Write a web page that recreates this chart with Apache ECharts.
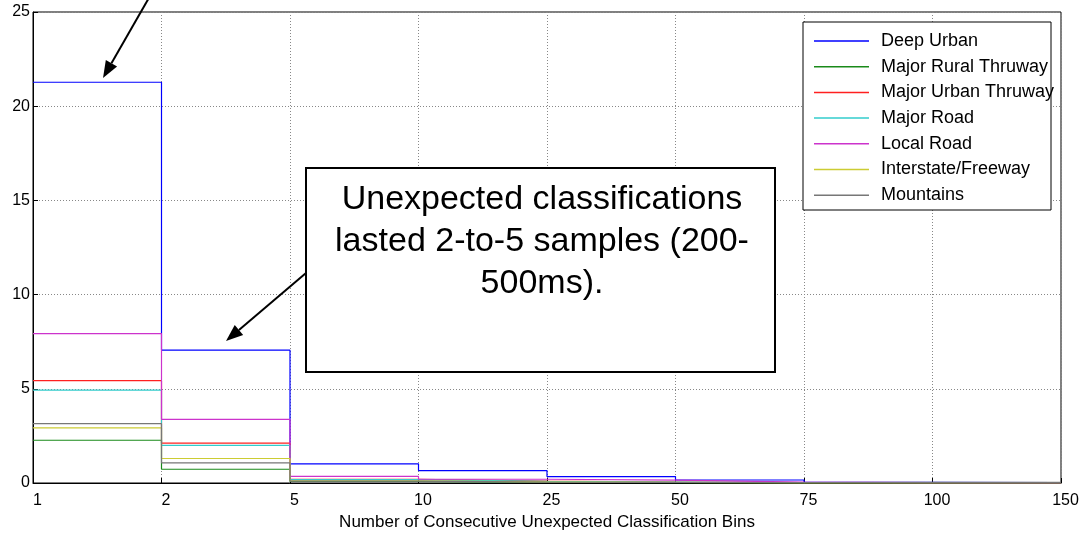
<!DOCTYPE html>
<html lang="en">
<head>
    <meta charset="UTF-8">
    <title>Unexpected Classification Bins</title>
    <script src='https://cdn.jsdelivr.net/npm/echarts@6/dist/echarts.min.js'></script>
    <style>
        html, body { margin: 0; padding: 0; background: #fff; }
    </style>
</head>
<body>
<div id="chart" style="width: 1083px;height: 533px"></div>
<script>
    // bin edges shown as tick labels
    const binTicks = ['1', '2', '5', '10', '25', '50', '75', '100', '150'];
    // one value per bin (1-2, 2-5, 5-10, 10-25, 25-50, 50-75, 75-100, 100-150)
    const deepUrban = [21.27, 7.05, 1.02, 0.66, 0.34, 0.16, 0.03, 0.02];
    const majorRuralThruway = [2.27, 0.73, 0.08, 0.04, 0.02, 0.01, 0.01, 0.01];
    const majorUrbanThruway = [5.43, 2.12, 0.2, 0.1, 0.05, 0.02, 0.01, 0.01];
    const majorRoad = [4.93, 2.0, 0.18, 0.09, 0.05, 0.02, 0.01, 0.01];
    const localRoad = [7.93, 3.38, 0.35, 0.2, 0.15, 0.05, 0.02, 0.01];
    const interstateFreeway = [2.93, 1.3, 0.12, 0.06, 0.03, 0.01, 0.01, 0.01];
    const mountains = [3.15, 1.07, 0.1, 0.05, 0.03, 0.02, 0.03, 0.03];

    const seriesNames = ['Deep Urban', 'Major Rural Thruway', 'Major Urban Thruway', 'Major Road',
        'Local Road', 'Interstate/Freeway', 'Mountains'];
    const seriesValues = [deepUrban, majorRuralThruway, majorUrbanThruway, majorRoad,
        localRoad, interstateFreeway, mountains];
    const colors = ['#0000ff', '#1a8a1a', '#ff2020', '#33cccc', '#cc33cc', '#cccc33', '#777777'];

    const font = '"Liberation Sans", Arial, sans-serif';

    // each bin becomes a flat step from its left edge to its right edge
    function toSteps(vals) {
        let pts = vals.map(function (v, i) { return [i, v]; });
        pts.push([vals.length, vals[vals.length - 1]]);
        return pts;
    }

    function arrow(x1, y1, x2, y2) {
        let dx = x2 - x1, dy = y2 - y1;
        let len = Math.sqrt(dx * dx + dy * dy);
        let ux = dx / len, uy = dy / len;
        let hl = 17, hw = 6.5;
        let bx = x2 - ux * hl, by = y2 - uy * hl;
        return [{
            type: 'line', z: 20,
            shape: {x1: x1, y1: y1, x2: bx, y2: by},
            style: {stroke: '#000', lineWidth: 2}
        }, {
            type: 'polygon', z: 20,
            shape: {points: [[x2, y2], [bx - uy * hw, by + ux * hw], [bx + uy * hw, by - ux * hw]]},
            style: {fill: '#000'}
        }];
    }

    let chart = echarts.init(document.getElementById('chart'));
    let option = {
        animation: false,
        color: colors,
        grid: {
            left: 33, right: 22, top: 12, bottom: 50,
            containLabel: false,
            outerBoundsMode: 'none',
            show: true, borderColor: '#000', borderWidth: 1
        },
        legend: {
            orient: 'vertical',
            left: 803, top: 22,
            padding: [8, 4, 2, 11],
            itemGap: 3.7,
            itemWidth: 55,
            itemHeight: 1.5,
            icon: 'rect',
            textStyle: {
                fontFamily: font, fontSize: 18, color: '#000',
                lineHeight: 22, padding: [0, 0, 0, 7]
            },
            data: seriesNames
        },
        xAxis: {
            type: 'value',
            min: 0, max: 8, interval: 1,
            name: 'Number of Consecutive Unexpected Classification Bins',
            nameLocation: 'middle',
            nameGap: 30,
            nameTextStyle: {fontFamily: font, fontSize: 17, color: '#000'},
            axisLine: {lineStyle: {color: '#000'}},
            axisTick: {inside: true, length: 5, lineStyle: {color: '#000'}},
            axisLabel: {
                fontFamily: font, fontSize: 16, color: '#000', margin: 10,
                padding: [0, 0, 0, 9],
                formatter: function (v) { return binTicks[v]; }
            },
            splitLine: {show: true, lineStyle: {color: '#888', type: [1, 2]}}
        },
        yAxis: {
            type: 'value',
            min: 0, max: 25, interval: 5,
            axisLine: {show: true, lineStyle: {color: '#000'}},
            axisTick: {show: true, inside: true, length: 5, lineStyle: {color: '#000'}},
            axisLabel: {fontFamily: font, fontSize: 16, color: '#000', margin: 3},
            splitLine: {show: true, lineStyle: {color: '#888', type: [1, 2]}}
        },
        series: seriesNames.map(function (name, i) {
            return {
                name: name,
                type: 'line',
                step: 'end',
                showSymbol: false,
                lineStyle: {width: 1.2},
                data: toSteps(seriesValues[i])
            };
        }),
        graphic: [
            {
                type: 'rect', z: 3,
                shape: {x: 803, y: 22, width: 248, height: 188},
                style: {fill: '#fff', stroke: '#000', lineWidth: 1}
            },
            {
                type: 'rect', z: 15,
                shape: {x: 306, y: 168, width: 469, height: 204},
                style: {fill: '#fff', stroke: '#000', lineWidth: 2}
            },
            {
                type: 'text', z: 16,
                x: 542, y: 179,
                style: {
                    text: 'Unexpected classifications\nlasted 2-to-5 samples (200-\n500ms).',
                    font: '34px ' + font,
                    fill: '#000',
                    align: 'center',
                    lineHeight: 42
                }
            }
        ].concat(arrow(150, -4, 103, 78), arrow(306, 273, 226, 341))
    };
    chart.setOption(option);
</script>
</body>
</html>
